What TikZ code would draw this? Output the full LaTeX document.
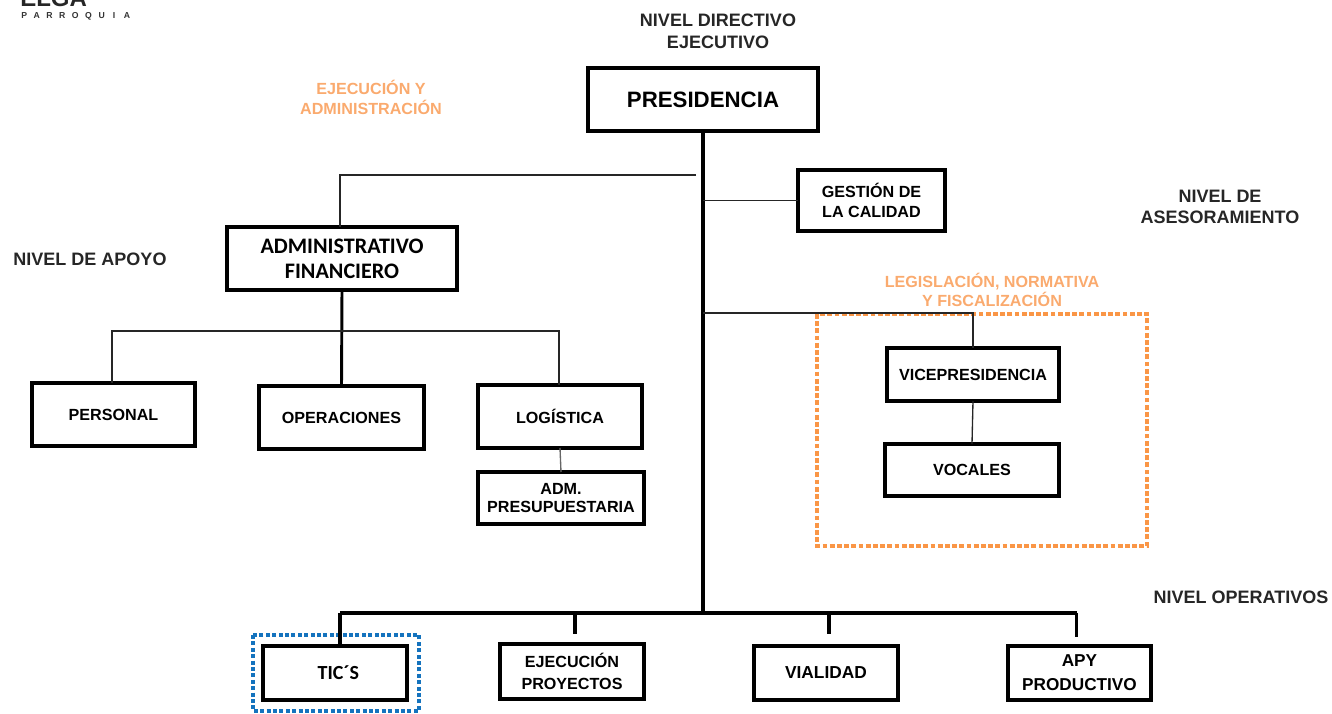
\documentclass[tikz,border=0pt]{standalone}
\usepackage{fontspec}
\setmainfont{Liberation Sans}
\newfontfamily\carl{Carlito}
\usetikzlibrary{calc}
\definecolor{orng}{RGB}{250,150,70}
\definecolor{orngt}{RGB}{250,170,110}
\definecolor{blu}{RGB}{20,115,190}
\newcommand{\fs}[1]{\fontsize{#1}{#1}\selectfont}
\tikzset{
 x=0.75pt,y=-0.75pt,
 org/.style={draw=black,fill=white,line width=2.6pt,align=center,font=\fs{12.1}\bfseries,inner sep=0pt,outer sep=0pt,anchor=north west},
 thin link/.style={draw=black!85,line width=1pt},
 thick link/.style={draw=black,line width=2.8pt},
 lab/.style={align=center,font=\fs{13.5}\bfseries,text=black!85,inner sep=0pt},
 olab/.style={align=center,font=\fs{12.1}\bfseries,text=orngt,inner sep=0pt},
}
\newcommand{\bx}[7][]{\node[org,minimum width=#5*0.75pt-1.5pt,minimum height=#6*0.75pt-1.5pt,#1] (#2) at (#3+1,#4+1) {#7};}
\begin{document}
\begin{tikzpicture}
\useasboundingbox (0,0) rectangle (1332,714);
\clip (0,0) rectangle (1332,714);
% logo
\node[font=\fs{18}\bfseries,inner sep=0pt,anchor=south west,text=black!85] (logo) at (20,7) {ELGA};
\node[font=\fs{6.5}\bfseries,inner sep=0pt,anchor=west,text=black!80] (logob) at (21,16) {P\hspace{4.9pt}A\hspace{4.9pt}R\hspace{4.9pt}R\hspace{4.9pt}O\hspace{4.9pt}Q\hspace{4.9pt}U\hspace{6pt}I\hspace{6.5pt}A};
% boxes
\bx[line width=3pt]{pres}{587}{67}{232}{65}{\fs{16.7}PRESIDENCIA}
\bx{gest}{797}{169}{149}{63}{GESTIÓN DE\\[3pt]LA CALIDAD}
\bx[font=\carl\bfseries\fs{16.6}]{admin}{226}{226}{232}{65}{ADMINISTRATIVO\\[2pt]FINANCIERO}
\bx{pers}{31}{382}{165}{65}{\raisebox{-1pt}{PERSONAL}}
\bx{oper}{258}{385}{167}{65}{OPERACIONES}
\bx{logi}{477}{384}{166}{65}{LOGÍSTICA}
\bx{adm}{477}{471}{168}{54}{ADM.\\[2pt]PRESUPUESTARIA}
\bx{vice}{886}{347}{174}{55}{VICEPRESIDENCIA}
\bx{voc}{884}{443}{176}{54}{VOCALES}
\bx[font=\carl\bfseries\fs{15}]{tics}{262}{645}{146}{56}{\hspace{5pt}TIC´S}
\bx{ejec}{499}{643}{146}{57}{EJECUCIÓN\\[5pt]PROYECTOS}
\bx[font=\fs{13}\bfseries]{vial}{753}{645}{146}{56}{VIALIDAD}
\bx[font=\fs{12.9}\bfseries]{apy}{1007}{645}{145}{56}{APY\\[5pt]PRODUCTIVO}
% highlight frames
\draw[orng,line width=3.3pt,dash pattern=on 3.6pt off 1.8pt] (817,314) rectangle (1147,546);
\draw[blu,line width=3.3pt,dash pattern=on 3pt off 1.8pt] (253,635) rectangle (419,711);
% coordinates
\coordinate (bus) at (pres.south|-0,613);
\coordinate (adminturn) at (696,175);
\coordinate (gestj) at (pres.south|-gest.west);
\coordinate (vicej) at (pres.south|-0,313);
\coordinate (subbus) at (admin.south|-0,331);
\coordinate (tictop) at ($(tics.north)+(5,0)$);
\coordinate (ejtop) at ($(ejec.north)+(3,-10)$);
\coordinate (vitop) at ($(vial.north)+(3,-12)$);
\coordinate (aptop) at ($(apy.north)+(-3,-9)$);
\coordinate (adtop) at ($(admin.north)+(-2,0)$);
\coordinate (petop) at ($(pers.north)+(-1.5,0)$);
\coordinate (lotop) at ($(logi.north)+(-1,0)$);
% connectors
\draw[thick link] (pres.south) -- (bus);
\draw[thin link] (adminturn) -| (adtop);
\draw[thin link] (gestj) -- (gest.west);
\draw[thin link] (vicej) -| (vice.north);
\draw[thin link] (vice.south) -- (voc.north);
\draw[thick link,line width=2.2pt] (admin.south) -- (oper.north);
\draw[thin link] (petop) |- (subbus) -| (lotop);
\draw[thin link,black!60] (logi.south) -- (adm.north);
\draw[thick link] (tictop|-bus) -- (tictop);
\draw[thick link] (ejtop|-bus) -- (ejtop);
\draw[thick link] (vitop|-bus) -- (vitop);
\draw[thick link] (aptop|-bus) -- (aptop);
\draw[thick link] (tictop|-bus) -- (aptop|-bus);
% labels
\node[lab] (l1) at (718,31) {NIVEL DIRECTIVO\\[3pt]EJECUTIVO};
\node[olab] (l2) at (371,97) {EJECUCIÓN Y\\[3pt]ADMINISTRACIÓN};
\node[lab] (l3) at (1220,207) {NIVEL DE\\[2pt]ASESORAMIENTO};
\node[lab] (l4) at (90,259) {NIVEL DE APOYO};
\node[olab] (l5) at (992,290) {LEGISLACIÓN, NORMATIVA\\[1pt]Y FISCALIZACIÓN};
\node[lab] (l6) at (1241,597) {NIVEL OPERATIVOS};
\end{tikzpicture}
\end{document}
